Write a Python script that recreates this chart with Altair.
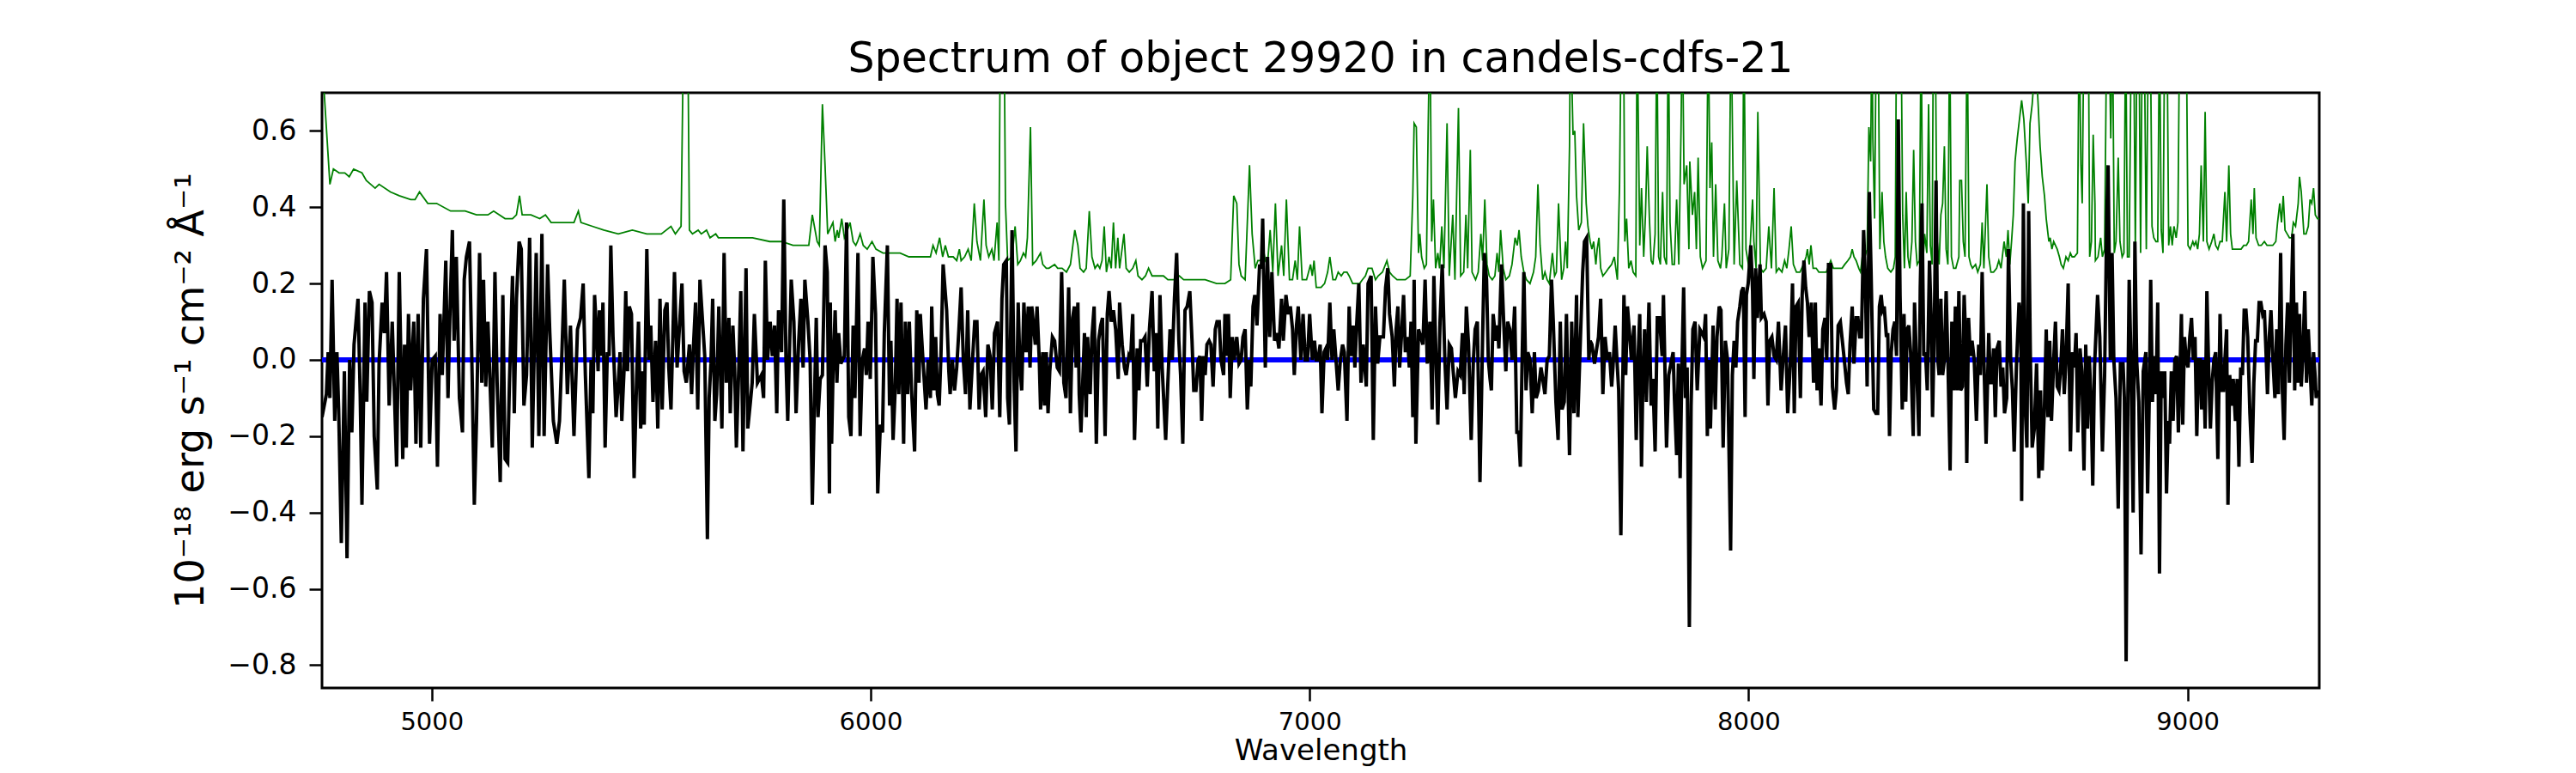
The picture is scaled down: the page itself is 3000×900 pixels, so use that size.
import altair as alt
import pandas as pd

TITLE = "Spectrum of object 29920 in candels-cdfs-21"
X_TITLE = "Wavelength"
Y_TITLE = "10⁻¹⁸ erg s⁻¹ cm⁻² Å⁻¹"
X_TICKS = [5000, 6000, 7000, 8000, 9000]
Y_TICKS = [-0.8, -0.6, -0.4, -0.2, 0.0, 0.2, 0.4, 0.6]
X_DOMAIN = [4750, 9300]
Y_DOMAIN = [-0.86, 0.7]
MODEL_LEVEL = [0.0]

# observed flux (wavelength, flux)
black_a = [(4750,-0.15),(4760,-0.09),(4764,0.02),(4768,-0.10),(4773,0.21),(4779,-0.16),(4784,0.02),(4788,-0.13),(4794,-0.48),(4801,-0.03),
 (4807,-0.52),(4813,0.00),(4818,-0.19),(4823,0.04),(4832,0.16),(4837,-0.09),(4841,-0.38),(4848,0.15),(4852,-0.11),(4858,0.18),
 (4864,0.15),(4869,-0.20),(4876,-0.34),(4880,-0.01),(4887,0.15),(4892,0.07),(4897,0.23),(4903,-0.12),(4910,0.10),(4920,-0.28),
 (4926,0.23),(4934,-0.26),(4938,0.04),(4942,-0.23),(4947,0.12),(4952,-0.08),(4959,0.10),(4964,-0.22),(4969,0.12),(4975,-0.23),
 (4981,0.16),(4988,0.29),(4995,-0.22),(5001,0.00),(5008,0.01),(5013,-0.28),(5019,0.12),(5024,-0.04),(5032,0.26),(5037,-0.10),
 (5041,0.10),(5047,0.34),(5051,0.05),(5056,0.27),(5063,-0.10),(5070,-0.19),(5074,0.21),(5079,0.27),(5086,0.31),(5092,-0.04),
 (5097,-0.38),(5102,-0.16),(5109,0.28),(5114,-0.06),(5118,0.21),(5123,-0.07),(5128,0.10),(5138,-0.23),(5144,0.23),(5149,-0.06),
 (5156,-0.32),(5162,0.17),(5167,-0.26),(5173,-0.27),(5177,-0.06),(5184,0.22),(5188,-0.14),(5193,0.16),(5199,0.31),(5204,0.29),
 (5210,-0.12),(5216,-0.04),(5223,0.32),(5229,-0.23),(5238,0.28),(5244,-0.20),(5251,0.33),(5256,-0.20),(5264,0.25),(5269,0.07),
 (5277,-0.16),(5285,-0.22),(5291,-0.16),(5296,0.00),(5302,0.21),(5309,-0.09),(5316,0.09),(5324,-0.20)]
black_b = [(5332,0.08),(5339,0.11),(5345,0.20),(5350,-0.04),(5358,-0.31),(5363,0.00),(5367,-0.14),(5371,0.17),(5376,0.06),(5379,-0.03),
 (5382,0.13),(5387,0.01),(5390,0.15),(5395,-0.23),(5400,0.02),(5404,0.01),(5408,0.30),(5413,0.06),(5420,-0.15),(5425,-0.06),
 (5429,0.02),(5433,-0.16),(5438,-0.03),(5442,0.18),(5446,-0.03),(5450,0.14),(5455,0.12),(5461,-0.31),(5467,-0.04),(5471,0.10),
 (5476,-0.18),(5480,-0.03),(5484,-0.17),(5490,0.29),(5495,0.00),(5499,0.09),(5504,-0.11),(5510,0.05),(5515,-0.18),(5520,0.16),
 (5525,-0.13),(5531,0.13),(5536,0.15),(5540,-0.02),(5545,-0.13),(5553,0.23),(5559,-0.02),(5564,0.08),(5570,0.20),(5575,-0.03),
 (5580,-0.06),(5587,0.04),(5592,-0.09),(5596,0.03),(5601,0.15),(5606,-0.13),(5611,0.21),(5617,0.10),(5622,0.01),(5628,-0.47),
 (5632,-0.10),(5636,-0.01),(5640,0.16),(5645,-0.16),(5649,-0.09),(5654,0.14),(5661,-0.18),(5666,0.28),(5671,-0.06),(5677,0.11),
 (5680,-0.14),(5686,0.09),(5690,-0.02),(5694,-0.23),(5700,0.00),(5704,0.18),(5709,-0.24),(5716,0.24),(5720,-0.18),(5726,-0.11),
 (5730,-0.06),(5735,0.12),(5742,-0.06),(5751,-0.04),(5756,-0.10),(5760,0.26),(5765,0.00),(5771,0.10),(5776,0.01),(5781,0.09),
 (5786,-0.14),(5790,0.13),(5797,0.02),(5802,0.42),(5807,0.00),(5811,-0.16),(5819,0.21),(5825,0.10),(5830,-0.14),(5836,0.05),
 (5841,0.16),(5846,-0.02),(5850,0.21),(5857,0.10),(5862,0.00),(5867,-0.38),(5872,-0.10),(5876,0.11),(5880,-0.15),(5885,-0.05),
 (5890,-0.04),(5896,0.30),(5901,0.23),(5906,-0.35)]
black_c = [(5908,0.15),(5911,-0.22),(5914,-0.04),(5919,0.13),(5923,-0.06),(5927,0.07),(5932,-0.01),(5936,0.00),(5940,0.01),(5945,0.36),
 (5950,-0.15),(5955,-0.20),(5960,0.09),(5964,-0.10),(5971,0.28),(5976,-0.20),(5981,0.00),(5986,0.03),(5990,-0.04),(5994,0.10),
 (5999,-0.05),(6002,0.10),(6005,0.27),(6011,0.12),(6016,-0.35),(6022,-0.17),(6027,-0.19),(6031,0.07),(6038,0.30),(6043,-0.12),
 (6046,0.05),(6051,-0.21),(6056,-0.07),(6060,0.16),(6064,-0.09),(6069,0.15),(6075,-0.22),(6079,0.10),(6084,-0.09),(6088,0.10),
 (6093,-0.08),(6100,-0.24),(6105,0.13),(6110,-0.06),(6113,0.12),(6118,0.02),(6126,-0.13),(6131,0.00),(6136,-0.10),(6139,0.14),
 (6144,-0.08),(6148,0.06),(6152,-0.09),(6156,-0.12),(6160,0.01),(6165,0.25),(6169,0.19),(6173,0.13),(6178,-0.03),(6181,-0.09),
 (6186,0.00),(6191,-0.08),(6196,-0.02),(6201,0.08),(6206,0.19),(6211,0.00),(6216,-0.09),(6221,0.13),(6226,-0.13),(6232,0.00),
 (6237,0.10),(6242,0.10),(6247,-0.13),(6251,-0.04),(6256,-0.03),(6262,-0.15),(6267,0.04),(6272,0.01),(6277,-0.13),(6282,0.07),
 (6289,0.10),(6294,-0.15),(6299,0.16),(6303,0.25),(6309,0.26),(6312,-0.10),(6316,-0.17),(6322,0.34),(6327,-0.08),(6331,-0.24),
 (6336,0.15),(6340,-0.02),(6344,-0.08),(6349,0.15),(6354,0.02),(6359,0.14),(6363,-0.02),(6367,0.14),(6371,0.09),(6375,0.04),
 (6379,0.14),(6384,0.00),(6387,-0.13),(6392,0.02),(6396,-0.12),(6400,0.02),(6404,-0.14),(6408,-0.03),(6414,0.06),(6419,0.05),
 (6425,-0.02),(6430,-0.03),(6435,0.23),(6440,-0.06),(6445,-0.10),(6451,0.19),(6455,-0.14),(6460,0.11),(6464,0.14),(6468,-0.02),
 (6472,0.15),(6475,-0.09),(6479,-0.19)]
black_d = [(6487,0.07),(6491,-0.15),(6494,0.06),(6500,-0.09),(6504,0.06),(6509,0.14),(6514,-0.22),(6519,0.05),(6524,0.09),(6528,0.11),
 (6534,-0.20),(6539,0.12),(6543,0.18),(6548,0.10),(6553,0.13),(6558,0.08),(6564,-0.05),(6567,0.15),(6573,0.04),(6578,-0.02),
 (6582,-0.04),(6588,0.01),(6592,0.00),(6597,0.12),(6601,-0.21),(6607,0.03),(6611,-0.08),(6615,0.05),(6620,0.05),(6625,0.06),
 (6630,-0.07),(6635,0.08),(6641,0.18),(6646,-0.03),(6650,0.07),(6654,-0.18),(6659,0.17),(6664,-0.02),(6672,-0.21),(6677,-0.06),
 (6682,0.08),(6687,0.00),(6692,0.16),(6697,0.28),(6702,0.05),(6706,-0.04),(6711,-0.22),(6716,0.13),(6721,0.14),(6727,0.18),
 (6732,0.05),(6736,-0.08),(6741,-0.08),(6746,0.00),(6750,0.01),(6754,-0.16),(6758,0.01),(6762,-0.04),(6766,0.04),(6771,0.05),
 (6775,0.04),(6780,-0.07),(6785,0.08),(6789,0.10),(6794,0.10),(6798,0.00),(6804,-0.04),(6807,0.12),(6811,0.01),(6815,0.12),
 (6819,-0.10),(6824,0.06),(6828,0.00),(6834,0.06),(6839,-0.01),(6844,0.00),(6848,0.06),(6853,0.08),(6858,-0.13),(6863,0.00),
 (6866,-0.07),(6871,0.14),(6875,0.17),(6880,0.09),(6886,0.25),(6890,0.24),(6893,0.37),(6899,-0.02),(6904,0.27),(6909,0.06),
 (6914,0.23),(6920,0.05),(6925,0.07),(6930,0.03),(6936,0.16),(6940,0.05),(6946,0.17),(6951,0.12),(6956,0.14),(6961,0.08),
 (6965,-0.04),(6970,0.09),(6974,0.14),(6980,0.00),(6985,0.12),(6990,0.00),(6995,0.00),(7000,0.12),(7006,0.00),(7011,0.05),
 (7015,0.00),(7019,0.00),(7024,0.04),(7028,-0.14),(7033,0.02),(7037,0.03),(7041,0.00),(7046,0.15),(7051,0.00),(7055,0.08)]
black_e = [(7065,-0.08),(7070,0.00),(7075,0.04),(7079,0.02),(7085,-0.16),(7090,0.14),(7094,0.01),(7099,0.09),(7103,-0.02),(7107,0.09),
 (7112,0.20),(7117,-0.06),(7122,0.04),(7129,-0.07),(7133,0.20),(7140,0.22),(7145,-0.21),(7150,0.14),(7155,-0.01),(7160,0.06),
 (7164,0.06),(7168,0.06),(7173,0.19),(7178,0.24),(7182,0.12),(7188,0.06),(7193,-0.07),(7197,0.08),(7201,0.14),(7205,-0.02),
 (7210,0.08),(7214,0.17),(7218,0.02),(7223,0.06),(7227,-0.02),(7231,0.10),(7235,-0.15),(7238,0.21),(7242,-0.22),(7248,0.08),
 (7253,0.06),(7258,0.04),(7263,0.21),(7268,-0.01),(7274,0.10),(7279,-0.13),(7283,0.22),(7288,0.00),(7292,-0.17),(7297,0.10),
 (7302,0.25),(7308,0.00),(7313,-0.13),(7318,0.04),(7323,0.03),(7327,-0.03),(7332,-0.10),(7338,-0.03),(7343,-0.04),(7348,0.07),
 (7352,-0.09),(7357,0.14),(7362,0.04),(7368,-0.21),(7373,0.00),(7377,0.08),(7382,0.10),(7388,-0.32),(7394,0.06),(7398,0.28),
 (7403,0.21),(7407,0.00),(7411,-0.05),(7414,-0.08),(7418,0.12),(7424,0.05),(7428,0.09),(7431,0.03),(7437,0.25),(7442,0.10),
 (7447,-0.03),(7451,0.10),(7456,0.08),(7461,0.00),(7467,0.14),(7472,-0.19),(7476,-0.19),(7480,-0.28),(7484,0.00),(7488,0.23),
 (7493,-0.08),(7497,0.02),(7502,0.00),(7507,-0.14),(7512,0.02),(7516,-0.10),(7521,-0.08),(7527,-0.02),(7531,-0.05),(7536,-0.09),
 (7541,0.00),(7546,0.01),(7551,0.21),(7555,0.10),(7561,-0.11),(7566,-0.21),(7571,0.10),(7575,-0.13),(7580,-0.11),(7585,0.12),
 (7592,-0.25),(7597,0.10),(7602,-0.14),(7608,0.17),(7611,-0.15),(7617,0.06),(7622,0.23),(7626,0.31),(7631,0.32),(7636,0.00)]
black_f = [(7639,0.05),(7643,0.04),(7649,-0.01),(7654,0.03),(7658,0.06),(7663,0.16),(7668,-0.09),(7673,0.06),(7678,0.00),(7683,0.02),
 (7688,-0.07),(7691,-0.02),(7696,0.09),(7700,0.00),(7704,-0.08),(7709,-0.46),(7713,-0.08),(7716,0.17),(7720,-0.04),(7724,0.14),
 (7730,0.05),(7733,0.00),(7739,0.09),(7744,-0.21),(7748,0.00),(7752,0.12),(7756,-0.28),(7759,-0.06),(7763,0.08),(7767,-0.11),
 (7773,0.15),(7778,-0.12),(7782,-0.05),(7787,-0.24),(7792,0.11),(7797,0.11),(7803,0.01),(7806,0.17),(7813,-0.23),(7818,-0.04),
 (7823,-0.01),(7828,0.02),(7831,-0.10),(7836,-0.25),(7840,-0.01),(7844,-0.31),(7848,-0.02),(7852,0.19),(7856,-0.10),(7860,-0.02),
 (7865,-0.70),(7869,-0.12),(7873,0.08),(7878,0.10),(7883,-0.08),(7889,0.08),(7894,0.07),(7898,0.06),(7902,0.12),(7906,-0.20),
 (7909,0.00),(7913,-0.18),(7919,0.09),(7924,-0.13),(7928,0.06),(7933,0.14),(7937,0.13),(7942,-0.23),(7947,0.05),(7952,0.00),
 (7959,-0.50),(7963,-0.04),(7967,0.05),(7971,-0.02),(7975,0.10),(7980,0.14),(7984,0.18),(7988,0.19),(7992,-0.15),(7995,0.17),
 (7999,0.20),(8005,0.30),(8009,0.18),(8012,-0.05),(8016,0.24),(8020,0.11),(8026,0.25),(8029,0.11),(8035,0.12),(8040,0.10),
 (8044,-0.12),(8048,0.05),(8053,0.06),(8058,0.01),(8063,0.00),(8068,0.10),(8074,-0.08),(8079,0.01),(8084,0.09),(8089,-0.14),
 (8095,-0.01),(8100,0.20),(8104,-0.14),(8108,0.14),(8113,0.15),(8118,-0.10),(8122,0.17),(8126,0.26),(8130,0.19),(8134,0.15),
 (8138,0.06),(8143,0.15),(8148,-0.06),(8152,0.15),(8156,-0.08),(8160,0.03),(8165,-0.12),(8169,0.08),(8174,0.11),(8178,0.00),
 (8182,0.25),(8187,0.25),(8191,-0.07),(8196,-0.13),(8200,-0.08),(8204,0.09),(8209,0.10)]
black_g = [(8218,0.00),(8223,-0.06),(8227,-0.09),(8231,0.04),(8236,0.14),(8240,-0.01),(8245,0.11),(8249,0.11),(8253,0.06),(8257,0.06),
 (8262,0.34),(8266,0.21),(8270,-0.07),(8275,0.44),(8279,0.23),(8285,-0.13),(8290,-0.14),(8294,-0.14),(8298,0.14),(8302,0.17),
 (8305,0.13),(8309,0.14),(8314,0.06),(8317,0.07),(8321,-0.20),(8325,0.02),(8329,0.08),(8333,0.10),(8337,0.01),(8341,0.63),
 (8345,0.17),(8350,-0.13),(8354,0.12),(8358,-0.11),(8361,0.08),(8365,0.09),(8369,0.02),(8375,-0.20),(8378,0.15),(8384,-0.06),
 (8388,-0.20),(8391,0.19),(8395,0.41),(8399,0.01),(8403,0.02),(8407,-0.08),(8412,0.26),(8416,0.10),(8419,-0.15),(8423,0.08),
 (8427,0.47),(8431,0.00),(8434,-0.04),(8438,0.16),(8442,-0.04),(8446,0.00),(8450,0.18),(8454,0.00),(8459,-0.29),(8463,0.10),
 (8467,-0.08),(8471,0.14),(8475,-0.08),(8479,0.18),(8483,-0.08),(8487,-0.07),(8491,0.17),(8494,0.07),(8497,-0.27),(8501,0.11),
 (8505,0.01),(8509,0.05),(8514,0.00),(8519,-0.16),(8524,0.04),(8528,-0.04),(8532,0.23),(8536,0.00),(8541,-0.22),(8547,0.07),
 (8551,-0.06),(8554,-0.06),(8558,0.03),(8562,-0.15),(8566,0.03),(8571,0.05),(8575,-0.07),(8579,-0.02),(8583,-0.14),(8588,-0.10),
 (8592,0.29),(8597,0.00),(8601,-0.08),(8605,-0.24),(8610,-0.02),(8616,0.15),(8620,0.10),(8622,-0.37),(8626,0.41),(8630,-0.12),
 (8634,-0.23),(8638,0.39),(8642,0.00),(8646,-0.23),(8651,-0.18),(8656,-0.01),(8661,-0.31),(8665,-0.08),(8669,-0.29),(8674,-0.12),
 (8678,0.08),(8682,-0.15),(8686,0.05),(8690,-0.16),(8695,0.00),(8699,0.10),(8703,-0.07),(8707,-0.08),(8711,-0.02),(8715,0.08),
 (8719,-0.09),(8723,0.00),(8728,0.20),(8733,-0.24),(8738,0.02),(8742,-0.02),(8746,0.07),(8750,-0.19),(8755,0.03),(8759,-0.03),
 (8764,-0.29),(8768,0.04),(8772,-0.18),(8776,0.01),(8780,-0.10),(8784,-0.33),(8788,-0.02)]
black_h = [(8795,0.17),(8800,0.06),(8806,-0.24),(8811,-0.04),(8816,0.38),(8819,0.51),(8824,0.00),(8828,0.28),(8832,0.00),(8837,-0.10),
 (8842,-0.39),(8847,-0.01),(8853,-0.01),(8856,-0.10),(8860,-0.79),(8864,-0.10),(8867,0.21),(8871,0.00),(8876,-0.40),(8880,0.31),
 (8884,0.00),(8889,-0.11),(8894,-0.51),(8899,-0.03),(8905,0.02),(8909,-0.35),(8913,-0.08),(8916,0.21),(8920,-0.11),(8924,0.01),
 (8928,-0.09),(8932,0.15),(8936,-0.56),(8940,-0.03),(8944,-0.10),(8948,-0.03),(8952,-0.35),(8956,-0.16),(8959,-0.22),(8963,-0.03),
 (8967,-0.16),(8971,0.00),(8975,0.01),(8979,-0.19),(8983,-0.02),(8986,0.12),(8989,-0.17),(8993,0.06),(8997,0.00),(9001,-0.02),
 (9005,0.06),(9009,0.11),(9013,0.00),(9017,0.06),(9021,-0.20),(9025,0.00),(9029,0.00),(9032,-0.13),(9036,0.00),(9040,-0.18),
 (9044,0.18),(9048,-0.02),(9052,-0.18),(9056,-0.06),(9060,0.00),(9064,0.02),(9069,-0.26),(9074,0.12),(9078,-0.08),(9082,-0.08),
 (9085,0.00),(9089,0.08),(9092,-0.38),(9096,-0.04),(9100,-0.12),(9104,-0.05),(9109,-0.16),(9113,-0.05),(9117,-0.28),(9121,-0.02),
 (9125,-0.04),(9129,0.13),(9133,0.13),(9137,0.06),(9142,-0.14),(9147,-0.27),(9151,-0.06),(9155,0.05),(9159,0.05),(9163,0.15),
 (9167,0.15),(9171,0.12),(9175,0.13),(9179,0.01),(9182,-0.09),(9186,0.06),(9190,0.13),(9194,0.01),(9199,-0.10),(9203,0.08),
 (9207,-0.09),(9212,0.28),(9216,-0.08),(9220,-0.21),(9224,0.04),(9228,0.15),(9232,-0.06),(9236,0.14),(9240,0.33),(9244,-0.08),
 (9248,0.15),(9252,-0.06),(9255,0.12),(9259,-0.07),(9263,0.02),(9267,0.18),(9271,-0.06),(9275,0.08),(9279,-0.02),(9283,-0.12),
 (9287,0.02),(9291,-0.05),(9293,-0.10),(9297,-0.08)]

# uncertainty spectrum (wavelength, error)
green_a = [(4750,0.95),(4755,0.70),(4768,0.46),(4776,0.50),(4789,0.49),(4802,0.49),(4812,0.48),(4822,0.50),(4841,0.49),(4851,0.47),
 (4861,0.46),(4871,0.45),(4880,0.46),(4906,0.44),(4926,0.43),(4952,0.42),(4962,0.42),(4972,0.44),(4991,0.41),(5011,0.41),
 (5043,0.39),(5076,0.39),(5102,0.38),(5128,0.38),(5141,0.39),(5167,0.37),(5184,0.37),(5193,0.38),(5200,0.43),(5206,0.38),
 (5226,0.38),(5246,0.37),(5259,0.38),(5272,0.36),(5291,0.36),(5324,0.36)]
green_b = [(5334,0.39),(5340,0.36),(5366,0.35),(5392,0.34),(5425,0.33),(5457,0.34),(5490,0.33),(5523,0.33),(5545,0.35),(5555,0.33),
 (5568,0.35),(5574,0.90),(5578,1.20),(5583,0.90),(5587,0.34),(5594,0.33),(5607,0.34),(5614,0.33),(5626,0.34),(5634,0.32),
 (5647,0.33),(5653,0.32),(5686,0.32),(5705,0.32),(5731,0.32),(5770,0.31),(5797,0.31),(5823,0.30),(5859,0.30),(5867,0.38),
 (5878,0.31),(5883,0.30),(5890,0.67),(5896,0.51),(5902,0.33)]
green_c = [(5914,0.36),(5919,0.31),(5924,0.34),(5927,0.32),(5934,0.37),(5940,0.32),(5947,0.34),(5953,0.36),(5960,0.31),(5966,0.30),
 (5970,0.31),(5976,0.33),(5983,0.30),(5992,0.29),(6003,0.31),(6012,0.29),(6028,0.28),(6048,0.28),(6067,0.28),(6087,0.27),
 (6106,0.27),(6126,0.27),(6136,0.27),(6142,0.30),(6149,0.28),(6157,0.32),(6164,0.27),(6170,0.30),(6177,0.27),(6188,0.27),
 (6196,0.26),(6202,0.29),(6206,0.26),(6214,0.27),(6222,0.29),(6229,0.26),(6236,0.41),(6242,0.31),(6250,0.26),(6258,0.42),
 (6263,0.30),(6269,0.27),(6276,0.29),(6281,0.26),(6288,0.36),(6292,0.26),(6297,1.20),(6303,1.00),(6307,0.41),(6312,0.26),
 (6322,0.27),(6329,0.35),(6335,0.25),(6341,0.26),(6348,0.28),(6353,0.27),(6357,0.32),(6364,0.61),(6369,0.25),(6377,0.26),
 (6387,0.28),(6392,0.25),(6400,0.24),(6406,0.24),(6419,0.25),(6426,0.24),(6436,0.24),(6446,0.23),(6455,0.25),(6465,0.34),
 (6472,0.30),(6477,0.24),(6485,0.23)]
green_d = [(6491,0.24),(6498,0.39),(6504,0.27),(6511,0.24),(6517,0.25),(6522,0.24),(6527,0.26),(6532,0.35),(6537,0.23),(6543,0.27),
 (6548,0.24),(6553,0.36),(6558,0.24),(6563,0.32),(6567,0.24),(6577,0.33),(6582,0.24),(6589,0.23),(6597,0.24),(6604,0.26),
 (6609,0.22),(6618,0.21),(6626,0.22),(6633,0.24),(6641,0.22),(6654,0.22),(6667,0.22),(6677,0.21),(6690,0.21),(6703,0.22),
 (6713,0.21),(6726,0.21),(6742,0.21),(6762,0.21),(6788,0.20),(6807,0.20),(6820,0.21),(6827,0.43),(6834,0.41),(6839,0.25),
 (6844,0.22),(6853,0.21),(6863,0.51),(6869,0.33),(6876,0.24),(6882,0.26),(6889,0.26),(6893,0.30),(6899,0.26),(6904,0.25),
 (6910,0.34),(6916,0.23),(6922,0.41),(6928,0.22),(6936,0.30),(6941,0.22),(6947,0.42),(6954,0.21),(6961,0.21),(6967,0.26),
 (6972,0.21),(6977,0.35),(6983,0.21),(6993,0.21),(7002,0.25),(7006,0.22),(7010,0.26),(7015,0.19),(7026,0.19),(7034,0.20),
 (7041,0.23),(7046,0.27),(7053,0.21)]
green_e = [(7059,0.21),(7065,0.23),(7072,0.22),(7078,0.23),(7085,0.23),(7090,0.22),(7098,0.20),(7104,0.20),(7114,0.20),(7120,0.21),
 (7127,0.22),(7133,0.24),(7142,0.24),(7150,0.21),(7156,0.22),(7166,0.23),(7176,0.26),(7182,0.23),(7189,0.22),(7199,0.21),
 (7208,0.21),(7218,0.21),(7229,0.22),(7235,0.43),(7238,0.62),(7243,0.61),(7248,0.28),(7251,0.33),(7255,0.27),(7261,0.24),
 (7266,0.25),(7270,0.61),(7274,0.90),(7278,0.31),(7282,0.42),(7287,0.24),(7292,0.28),(7296,0.24),(7301,0.35),(7306,0.24),
 (7313,0.62),(7318,0.22),(7326,0.38),(7331,0.21),(7339,0.66),(7344,0.22),(7351,0.23),(7356,0.38),(7360,0.24),(7366,0.55),
 (7370,0.23),(7378,0.21),(7384,0.23),(7390,0.33),(7394,0.26),(7399,0.42),(7404,0.25),(7409,0.22),(7416,0.21),(7422,0.22),
 (7427,0.28),(7431,0.23),(7435,0.34),(7441,0.24),(7447,0.21),(7455,0.22),(7461,0.25),(7468,0.32),(7473,0.30),(7477,0.34),
 (7482,0.27),(7488,0.23),(7494,0.21),(7502,0.20),(7510,0.23),(7515,0.27),(7520,0.46),(7525,0.30),(7531,0.21),(7536,0.23),
 (7541,0.21),(7546,0.20),(7553,0.28),(7558,0.22),(7562,0.23),(7567,0.41),(7574,0.21),(7579,0.24),(7583,0.31),(7587,0.24),
 (7592,0.56),(7594,0.90),(7600,0.59),(7604,0.60),(7608,0.43),(7613,0.34),(7619,0.36),(7624,0.62),(7630,0.41),(7634,0.35),
 (7639,0.31)]
green_f = [(7643,0.29),(7647,0.31),(7652,0.25),(7655,0.29),(7659,0.32),(7663,0.24),(7668,0.22),(7675,0.23),(7681,0.24),(7688,0.25),
 (7694,0.27),(7701,0.21),(7706,0.46),(7710,0.90),(7715,0.90),(7718,0.31),(7722,0.37),(7727,0.24),(7732,0.26),(7737,0.23),
 (7743,0.22),(7746,0.90),(7752,0.30),(7756,0.45),(7761,0.27),(7765,0.38),(7769,0.56),(7774,0.37),(7778,0.26),(7782,0.25),
 (7787,0.33),(7791,0.90),(7795,0.27),(7799,0.25),(7804,0.44),(7808,0.27),(7813,0.25),(7817,0.90),(7821,0.36),(7826,0.25),
 (7831,0.25),(7836,0.42),(7841,0.25),(7846,0.60),(7849,0.90),(7853,0.46),(7859,0.51),(7864,0.29),(7866,0.52),(7872,0.38),
 (7877,0.44),(7881,0.29),(7885,0.53),(7890,0.27),(7895,0.24),(7903,0.26),(7908,0.90),(7912,0.45),(7916,0.57),(7920,0.27),
 (7925,0.46),(7930,0.26),(7936,0.24),(7939,0.27),(7945,0.41),(7949,0.24),(7955,0.29),(7960,0.90),(7967,0.25),(7973,0.47),
 (7980,0.25),(7986,0.24),(7989,0.90),(7994,0.29),(8001,0.24),(8009,0.42),(8012,0.31),(8017,0.24),(8021,0.65),(8027,0.24),
 (8033,0.23),(8040,0.24),(8046,0.35),(8052,0.24),(8058,0.45),(8063,0.23),(8069,0.24),(8076,0.23),(8082,0.26),(8087,0.24),
 (8092,0.29),(8097,0.35),(8102,0.25),(8109,0.23),(8117,0.23),(8125,0.25),(8131,0.27),(8134,0.29),(8138,0.25),(8142,0.30),
 (8147,0.24),(8154,0.24),(8160,0.23),(8167,0.23),(8177,0.23),(8187,0.26),(8193,0.24),(8202,0.24),(8209,0.24)]
green_g = [(8213,0.24),(8219,0.25),(8226,0.26),(8232,0.27),(8236,0.29),(8240,0.27),(8245,0.26),(8251,0.24),(8255,0.23),(8260,0.28),
 (8265,0.27),(8270,0.29),(8274,0.61),(8278,0.52),(8281,0.90),(8283,0.58),(8287,0.37),(8291,0.90),(8295,0.90),(8299,0.29),
 (8304,0.44),(8308,0.31),(8312,0.27),(8317,0.24),(8324,0.23),(8330,0.24),(8334,0.27),(8337,0.90),(8341,0.90),(8343,0.90),
 (8347,0.90),(8351,0.38),(8355,0.24),(8359,0.44),(8363,0.27),(8367,0.24),(8372,0.31),(8376,0.55),(8380,0.31),(8384,0.25),
 (8389,0.26),(8393,0.90),(8397,0.25),(8401,0.33),(8406,0.28),(8410,0.67),(8414,0.30),(8418,0.25),(8421,0.90),(8425,0.90),
 (8429,0.32),(8434,0.25),(8438,0.38),(8442,0.41),(8446,0.56),(8450,0.29),(8454,0.25),(8458,0.90),(8462,0.27),(8467,0.24),
 (8472,0.24),(8479,0.27),(8481,0.47),(8485,0.47),(8489,0.31),(8493,0.27),(8498,0.90),(8502,0.27),(8506,0.25),(8510,0.24),
 (8517,0.25),(8522,0.23),(8528,0.25),(8532,0.36),(8536,0.24),(8543,0.46),(8547,0.27),(8552,0.23),(8558,0.23),(8565,0.24),
 (8570,0.26),(8575,0.24),(8582,0.31),(8587,0.27),(8591,0.34),(8595,0.25),(8599,0.31),(8603,0.38),(8607,0.52),(8612,0.58),
 (8617,0.63),(8622,0.68),(8627,0.63),(8633,0.51),(8637,0.41),(8641,0.62),(8646,0.67),(8651,0.75),(8656,0.75),(8660,0.66),
 (8664,0.56),(8669,0.48),(8674,0.43),(8678,0.37),(8684,0.31),(8687,0.32),(8691,0.29),(8695,0.31),(8699,0.30),(8703,0.29),
 (8708,0.27),(8712,0.25),(8717,0.24),(8723,0.27),(8728,0.26),(8733,0.28),(8737,0.27),(8742,0.27),(8749,0.28),(8753,0.90),
 (8757,0.51),(8760,0.41),(8764,0.90),(8768,0.90),(8774,0.90),(8777,0.27),(8781,0.31),(8785,0.59),(8789,0.41)]
green_h = [(8790,0.26),(8796,0.27),(8802,0.32),(8806,0.27),(8811,0.29),(8816,0.90),(8821,0.90),(8825,0.58),(8829,0.90),(8833,0.28),
 (8837,0.31),(8842,0.53),(8846,0.31),(8851,0.27),(8855,0.28),(8859,0.90),(8863,0.27),(8867,0.27),(8872,0.90),(8877,0.90),
 (8881,0.29),(8885,0.90),(8889,0.90),(8893,0.28),(8897,0.90),(8901,0.90),(8906,0.29),(8911,0.90),(8915,0.90),(8919,0.35),
 (8923,0.32),(8928,0.31),(8932,0.31),(8936,0.90),(8940,0.34),(8944,0.28),(8948,0.90),(8953,0.90),(8957,0.30),(8961,0.35),
 (8965,0.30),(8969,0.35),(8974,0.32),(8978,0.36),(8982,0.90),(8986,0.90),(8989,0.90),(8993,0.90),(8997,0.90),(9001,0.30),
 (9006,0.29),(9012,0.31),(9015,0.30),(9019,0.31),(9023,0.29),(9027,0.33),(9031,0.51),(9036,0.31),(9040,0.65),(9044,0.31),
 (9049,0.29),(9055,0.31),(9060,0.33),(9064,0.30),(9069,0.29),(9074,0.31),(9079,0.31),(9085,0.44),(9089,0.31),(9094,0.51),
 (9098,0.33),(9102,0.29),(9109,0.29),(9116,0.29),(9122,0.29),(9128,0.30),(9134,0.30),(9139,0.31),(9145,0.42),(9149,0.33),
 (9152,0.45),(9156,0.32),(9162,0.30),(9168,0.30),(9175,0.31),(9181,0.30),(9189,0.30),(9194,0.30),(9201,0.31),(9205,0.36),
 (9210,0.41),(9214,0.36),(9218,0.43),(9222,0.34),(9227,0.33),(9232,0.32),(9237,0.32),(9241,0.36),(9246,0.35),(9252,0.41),
 (9255,0.48),(9259,0.44),(9265,0.33),(9270,0.33),(9275,0.35),(9279,0.42),(9283,0.41),(9287,0.45),(9291,0.38),(9296,0.37),
 (9300,0.37)]

black_pts = black_a + black_b + black_c + black_d + black_e + black_f + black_g + black_h
green_pts = green_a + green_b + green_c + green_d + green_e + green_f + green_g + green_h
flux_df = pd.DataFrame(black_pts, columns=["wave", "flux"])
err_df = pd.DataFrame(green_pts, columns=["wave", "flux"])
model_df = pd.DataFrame({"flux": MODEL_LEVEL})

FONT = "DejaVu Sans"
xscale = alt.Scale(domain=X_DOMAIN, nice=False, zero=False)
yscale = alt.Scale(domain=Y_DOMAIN, nice=False, zero=False)

x_axis = alt.Axis(values=X_TICKS, format="d", title=X_TITLE, grid=False, domain=False,
                  tickSize=15, tickWidth=2.5, tickColor="black", labelFontSize=29,
                  labelFont=FONT, labelColor="black", labelPadding=10, titleFont=FONT,
                  titleFontSize=34, titleFontWeight="normal", titleColor="black", titlePadding=2)
y_axis = alt.Axis(values=Y_TICKS, format=".1f", title=Y_TITLE, grid=False, domain=False,
                  tickSize=15, tickWidth=2.5, tickColor="black", labelFontSize=33,
                  labelFont=FONT, labelColor="black", labelPadding=15, titleFont=FONT,
                  titleFontSize=46, titleFontWeight="normal", titleColor="black", titlePadding=18)

X_ENC = alt.X("wave:Q", scale=xscale, axis=x_axis)
Y_ENC = alt.Y("flux:Q", scale=yscale, axis=y_axis)

err_line = alt.Chart(err_df).mark_line(color="#008000", strokeWidth=1.8, clip=True).encode(
    x=X_ENC, y=Y_ENC,
)
model_line = alt.Chart(model_df).mark_rule(color="#0000ff", strokeWidth=6).encode(
    y=Y_ENC,
)
flux_line = alt.Chart(flux_df).mark_line(color="#000000", strokeWidth=4, clip=True).encode(
    x=X_ENC, y=Y_ENC,
)

chart = alt.layer(err_line, model_line, flux_line).properties(
    width=2326, height=693, background="white",
    title=alt.TitleParams(TITLE, font=FONT, fontSize=49, fontWeight="normal", color="black",
                          anchor="middle", offset=14),
    autosize=alt.AutoSizeParams(type="none"),
    padding={"left": 367, "top": 100, "right": 290, "bottom": 99},
).configure_view(stroke="black", strokeWidth=3)

chart.save("out.html", embed_options={"renderer": "svg", "actions": False})
